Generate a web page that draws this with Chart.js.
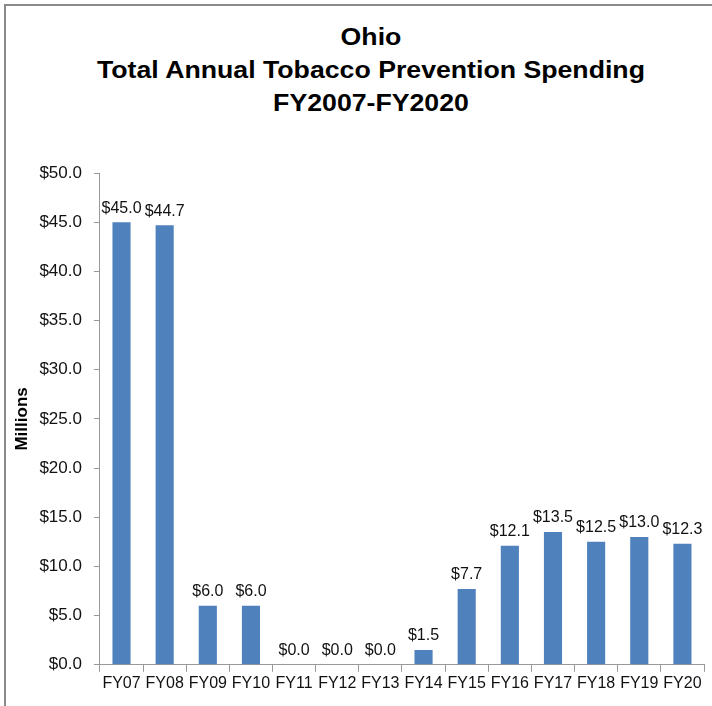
<!DOCTYPE html>
<html>
<head>
<meta charset="utf-8">
<script src="https://cdn.jsdelivr.net/npm/chart.js@4"></script>
<style>
  html, body { margin: 0; padding: 0; background: #fff; }
  #frame {
    position: absolute; left: 4px; top: 4px; width: 708px; height: 702px;
    border-left: 2px solid #8a8a8a; border-top: 2px solid #8a8a8a;
    box-sizing: border-box;
  }
  #wrap { position: absolute; left: 0; top: 0; width: 712px; height: 706px; }
  #title {
    position: absolute; left: 0; top: 21px; width: 742px; text-align: center;
    font: bold 23px 'Liberation Sans', Arial, sans-serif; line-height: 33px; color: #000;
    transform: scaleX(1.16); transform-origin: 371px 0;
  }
</style>
</head>
<body>
<div id="frame"></div>
<div id="title"></div>
<div id="wrap"><canvas id="chart"></canvas></div>
<script>
const years = ["FY07", "FY08", "FY09", "FY10", "FY11", "FY12", "FY13", "FY14", "FY15", "FY16", "FY17", "FY18", "FY19", "FY20"];
const spending = [45.0, 44.7, 6.0, 6.0, 0.0, 0.0, 0.0, 1.5, 7.7, 12.1, 13.5, 12.5, 13.0, 12.3];
const titleLines = ["Ohio", "Total Annual Tobacco Prevention Spending", "FY2007-FY2020"];

const FONT = "'Liberation Sans', Arial, sans-serif";
const money = v => "$" + Number(v).toFixed(1);

document.getElementById("title").innerHTML = titleLines.join("<br>");

// draws the value above every bar
const barLabels = {
    id: "barLabels",
    afterDatasetsDraw(chart) {
        const ctx = chart.ctx;
        const meta = chart.getDatasetMeta(0);
        ctx.save();
        ctx.font = "16px " + FONT;
        ctx.fillStyle = "#111";
        ctx.textAlign = "center";
        ctx.textBaseline = "bottom";
        meta.data.forEach((bar, i) => {
            ctx.fillText(money(spending[i]), bar.x, bar.y - 6);
        });
        ctx.restore();
    }
};

new Chart(document.getElementById("chart"), {
    type: "bar",
    data: {
        labels: years,
        datasets: [{
            data: spending,
            backgroundColor: "#4f81bd",
            barPercentage: 0.42,
            categoryPercentage: 1.0
        }]
    },
    options: {
        responsive: true,
        maintainAspectRatio: false,
        animation: false,
        layout: { padding: { left: 0, right: 8, top: 173, bottom: 11 } },
        plugins: {
            legend: { display: false },
            tooltip: { enabled: false },
            title: { display: false }
        },
        scales: {
            x: {
                grid: { display: true, drawOnChartArea: false, offset: true, tickLength: 7, color: "#999" },
                border: { color: "#999" },
                ticks: { color: "#111", font: { family: FONT, size: 16 }, padding: 2, maxRotation: 0, autoSkip: false }
            },
            y: {
                min: 0,
                max: 50,
                grid: { display: true, drawOnChartArea: false, tickLength: 6, color: "#999" },
                border: { color: "#999" },
                ticks: { stepSize: 5, color: "#111", font: { family: FONT, size: 17 }, padding: 12, callback: v => money(v) },
                title: { display: true, text: "Millions", color: "#000", font: { family: FONT, size: 17, weight: "bold" }, padding: { top: 12, bottom: -5 } }
            }
        }
    },
    plugins: [barLabels]
});
</script>
</body>
</html>
